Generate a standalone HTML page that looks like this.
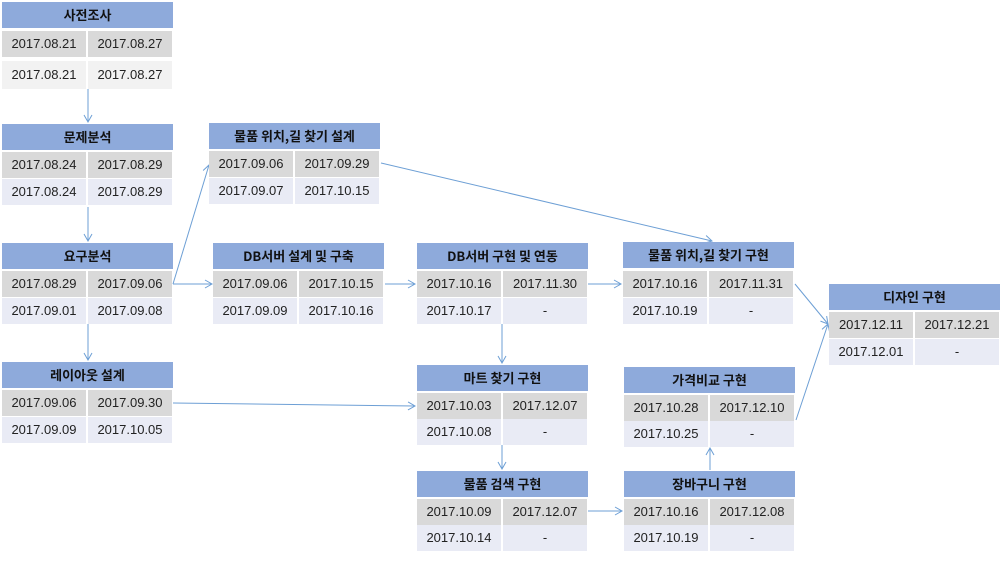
<!DOCTYPE html>
<html><head><meta charset="utf-8"><style>
body{margin:0;width:1007px;height:563px;background:#fff;position:relative;overflow:hidden;font-family:"Liberation Sans","Noto Sans CJK KR",sans-serif;}
.n{position:absolute;width:171px;}
.h{position:absolute;left:0;width:100%;height:26px;background:#8eaadb;color:#111;font-weight:bold;font-size:13px;text-align:center;line-height:26px;font-family:"Noto Sans CJK KR",sans-serif;}
.r{position:absolute;left:0;width:100%;height:26px;font-size:13px;color:#222;line-height:26px;}
.r span{position:absolute;top:0;height:100%;width:84px;text-align:center;}
.r span:first-child{left:0}.r span:last-child{left:86px}
.r1 span{background:#d9d9d9}.r2 span{background:#e9ebf5}.r3 span{background:#f2f2f2}
svg{position:absolute;left:0;top:0}
</style></head><body>
<svg width="1007" height="563"><defs><marker id="a" markerWidth="10" markerHeight="10" refX="8" refY="5" orient="auto" markerUnits="userSpaceOnUse"><path d="M1,1 L8,5 L1,9" fill="none" stroke="#6d9fd5" stroke-width="1"/></marker></defs>
<g stroke="#6d9fd5" stroke-width="1" fill="none" marker-end="url(#a)">
<line x1="88" y1="89" x2="88" y2="122"/><line x1="88" y1="207" x2="88" y2="241"/><line x1="88" y1="324" x2="88" y2="360"/>
<line x1="173" y1="284" x2="209" y2="165"/><line x1="173" y1="284" x2="212" y2="284"/>
<line x1="385" y1="284" x2="415" y2="284"/><line x1="588" y1="284" x2="621" y2="284"/>
<line x1="381" y1="163" x2="712" y2="241"/>
<line x1="795" y1="284" x2="828" y2="324"/><line x1="796" y1="420" x2="828" y2="324"/>
<line x1="173" y1="403" x2="415" y2="406"/>
<line x1="502" y1="324" x2="502" y2="363"/><line x1="502" y1="445" x2="502" y2="469"/>
<line x1="588" y1="511" x2="622" y2="511"/><line x1="710" y1="470" x2="710" y2="448"/>
</g></svg>

<div class="n" style="left:2px;top:2px"><div class="h" style="top:0">사전조사</div><div class="r r1" style="top:29px"><span>2017.08.21</span><span>2017.08.27</span></div><div class="r r3" style="top:59px;height:28px;line-height:28px"><span>2017.08.21</span><span>2017.08.27</span></div></div>
<div class="n" style="left:2px;top:124px"><div class="h" style="top:0">문제분석</div><div class="r r1" style="top:28px"><span>2017.08.24</span><span>2017.08.29</span></div><div class="r r2" style="top:55px"><span>2017.08.24</span><span>2017.08.29</span></div></div>
<div class="n" style="left:2px;top:243px"><div class="h" style="top:0">요구분석</div><div class="r r1" style="top:28px"><span>2017.08.29</span><span>2017.09.06</span></div><div class="r r2" style="top:55px"><span>2017.09.01</span><span>2017.09.08</span></div></div>
<div class="n" style="left:2px;top:362px"><div class="h" style="top:0">레이아웃 설계</div><div class="r r1" style="top:28px"><span>2017.09.06</span><span>2017.09.30</span></div><div class="r r2" style="top:55px"><span>2017.09.09</span><span>2017.10.05</span></div></div>
<div class="n" style="left:209px;top:123px"><div class="h" style="top:0">물품 위치,길 찾기 설계</div><div class="r r1" style="top:28px"><span>2017.09.06</span><span>2017.09.29</span></div><div class="r r2" style="top:55px"><span>2017.09.07</span><span>2017.10.15</span></div></div>
<div class="n" style="left:213px;top:243px"><div class="h" style="top:0">DB서버 설계 및 구축</div><div class="r r1" style="top:28px"><span>2017.09.06</span><span>2017.10.15</span></div><div class="r r2" style="top:55px"><span>2017.09.09</span><span>2017.10.16</span></div></div>
<div class="n" style="left:417px;top:243px"><div class="h" style="top:0">DB서버 구현 및 연동</div><div class="r r1" style="top:28px"><span>2017.10.16</span><span>2017.11.30</span></div><div class="r r2" style="top:55px"><span>2017.10.17</span><span>-</span></div></div>
<div class="n" style="left:623px;top:242px"><div class="h" style="top:0">물품 위치,길 찾기 구현</div><div class="r r1" style="top:29px"><span>2017.10.16</span><span>2017.11.31</span></div><div class="r r2" style="top:56px"><span>2017.10.19</span><span>-</span></div></div>
<div class="n" style="left:829px;top:284px"><div class="h" style="top:0">디자인 구현</div><div class="r r1" style="top:28px"><span>2017.12.11</span><span>2017.12.21</span></div><div class="r r2" style="top:55px"><span>2017.12.01</span><span>-</span></div></div>
<div class="n" style="left:417px;top:365px"><div class="h" style="top:0">마트 찾기 구현</div><div class="r r1" style="top:28px"><span>2017.10.03</span><span>2017.12.07</span></div><div class="r r2" style="top:54px"><span>2017.10.08</span><span>-</span></div></div>
<div class="n" style="left:624px;top:367px"><div class="h" style="top:0">가격비교 구현</div><div class="r r1" style="top:28px"><span>2017.10.28</span><span>2017.12.10</span></div><div class="r r2" style="top:54px"><span>2017.10.25</span><span>-</span></div></div>
<div class="n" style="left:417px;top:471px"><div class="h" style="top:0">물품 검색 구현</div><div class="r r1" style="top:28px"><span>2017.10.09</span><span>2017.12.07</span></div><div class="r r2" style="top:54px"><span>2017.10.14</span><span>-</span></div></div>
<div class="n" style="left:624px;top:471px"><div class="h" style="top:0">장바구니 구현</div><div class="r r1" style="top:28px"><span>2017.10.16</span><span>2017.12.08</span></div><div class="r r2" style="top:54px"><span>2017.10.19</span><span>-</span></div></div>
</body></html>
